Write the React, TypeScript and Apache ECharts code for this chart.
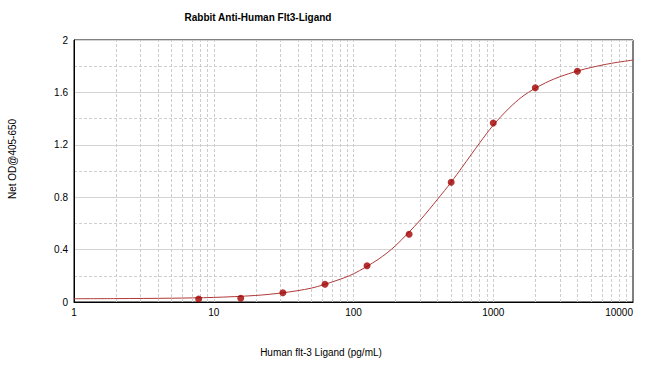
import React, { useEffect, useRef } from "react";
import * as echarts from "echarts";

const title = "Rabbit Anti-Human Flt3-Ligand";
const xName = "Human flt-3 Ligand (pg/mL)";
const yName = "Net OD@405-650";

// measured standards
const concentrations = [7.8, 15.6, 31.25, 62.5, 125, 250, 500, 1000, 2000, 4000];
const odValues = [0.023, 0.028, 0.071, 0.135, 0.277, 0.517, 0.914, 1.366, 1.636, 1.761];

// fitted curve
const curveX = [1, 2, 5, 10, 20, 31, 50, 75, 100, 150, 200, 300, 400, 500, 600, 800, 1000, 1300, 1600, 2000, 2500, 3000, 4000, 5000, 7000, 10000];
const curveY = [0.025, 0.026, 0.029, 0.035, 0.05, 0.07, 0.106, 0.163, 0.215, 0.325, 0.43, 0.625, 0.785, 0.915, 1.03, 1.215, 1.35, 1.48, 1.565, 1.632, 1.685, 1.72, 1.763, 1.79, 1.822, 1.847];

// vertical grid lines (log decades and their subdivisions)
const xGridValues = [
  2, 3, 4, 5, 6, 7, 8, 9, 10,
  20, 30, 40, 50, 60, 70, 80, 90, 100,
  200, 300, 400, 500, 600, 700, 800, 900, 1000,
  2000, 3000, 4000, 5000, 6000, 7000, 8000, 9000,
];

const yMin = 0;
const yMax = 2;
const yInterval = 0.4;

export default function App() {
  const ref = useRef<HTMLDivElement>(null);
  useEffect(() => {
    if (!ref.current) return;
    const chart = echarts.init(ref.current, null, { renderer: "svg" });
    const font = "Liberation Sans, Arial, sans-serif";
    chart.setOption({
      animation: false,
      backgroundColor: "#ffffff",
      textStyle: { fontFamily: font },
      grid: {
        left: 74,
        right: 17,
        top: 40,
        bottom: 64,
        show: true,
        borderColor: "#000",
        borderWidth: 1,
      },
      graphic: [
        {
          type: "text",
          x: 258,
          y: 17,
          style: {
            text: title,
            fontFamily: font,
            fontSize: 10,
            fontWeight: "bold",
            fill: "#000",
            textAlign: "center",
            textVerticalAlign: "middle",
          },
        },
        {
          type: "text",
          x: 321,
          y: 352,
          style: {
            text: xName,
            fontFamily: font,
            fontSize: 10,
            fill: "#000",
            textAlign: "center",
            textVerticalAlign: "middle",
          },
        },
        {
          type: "text",
          x: 12,
          y: 159,
          rotation: Math.PI / 2,
          style: {
            text: yName,
            fontFamily: font,
            fontSize: 10,
            fill: "#000",
            textAlign: "center",
            textVerticalAlign: "middle",
          },
        },
      ],
      xAxis: {
        type: "log",
        logBase: 10,
        min: 1,
        max: 10000,
        axisLine: { show: true, lineStyle: { color: "#000", width: 1 } },
        axisTick: { show: false },
        axisLabel: {
          color: "#000",
          fontSize: 10,
          fontFamily: font,
          margin: 5,
          alignMaxLabel: "right",
          formatter: (v: number) => String(Math.round(v)),
        },
        splitLine: { show: false },
      },
      yAxis: {
        type: "value",
        min: yMin,
        max: yMax,
        interval: yInterval,
        axisLine: { show: true, lineStyle: { color: "#000", width: 1 } },
        axisTick: { show: false },
        axisLabel: { color: "#000", fontSize: 10, fontFamily: font, margin: 6 },
        splitLine: { show: true, lineStyle: { color: "#d4d4d4", width: 1 } },
        minorTick: { show: false, splitNumber: 2 },
        minorSplitLine: { show: true, lineStyle: { color: "#cfcfcf", type: [3, 2], width: 1 } },
      },
      series: [
        {
          type: "line",
          data: curveX.map((x, i) => [x, curveY[i]]),
          smooth: 0.3,
          showSymbol: false,
          symbol: "none",
          lineStyle: { color: "#b03a3a", width: 1 },
          z: 3,
          markLine: {
            silent: true,
            symbol: "none",
            label: { show: false },
            lineStyle: { color: "#cccccc", type: [3, 2], width: 1 },
            data: xGridValues.map((v) => ({ xAxis: v })),
            z: 1,
          },
        },
        {
          type: "scatter",
          data: concentrations.map((x, i) => [x, odValues[i]]),
          symbol: "circle",
          symbolSize: 7,
          itemStyle: { color: "#a00000" },
          z: 4,
        },
      ],
    });
    return () => chart.dispose();
  }, []);
  return <div ref={ref} style={{ width: 650, height: 366, position: "absolute", left: 0, top: 0 }} />;
}
